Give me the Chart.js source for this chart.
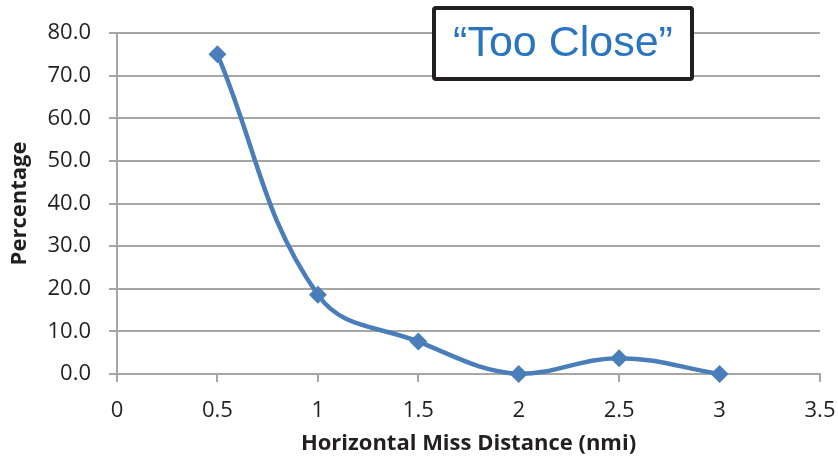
<!DOCTYPE html>
<html>
<head>
<meta charset="utf-8">
<script src="https://cdn.jsdelivr.net/npm/chart.js@4/dist/chart.umd.min.js"></script>
<style>
  html, body { margin: 0; padding: 0; background: #fff; }
  #wrap { width: 838px; height: 463px; position: relative; }
</style>
</head>
<body>
<div id="wrap"><canvas id="c" width="838" height="463"></canvas></div>
<script>
const missDistance = [0.5, 1, 1.5, 2, 2.5, 3];
const percentage = [75.0, 18.6, 7.6, 0.0, 3.7, 0.0];
const xTickLabels = ['0', '0.5', '1', '1.5', '2', '2.5', '3', '3.5'];
const yTickLabels = ['0.0', '10.0', '20.0', '30.0', '40.0', '50.0', '60.0', '70.0', '80.0'];
const annotationText = '\u201CToo Close\u201D';
const xTitle = 'Horizontal Miss Distance (nmi)';
const yTitle = 'Percentage';

const annotationPlugin = {
  id: 'tooClose',
  afterDraw(chart) {
    const ctx = chart.ctx;
    ctx.save();
    const x = 434, y = 8, w = 258, h = 71;
    ctx.fillStyle = '#ffffff';
    ctx.strokeStyle = '#231f20';
    ctx.lineWidth = 4;
    ctx.beginPath();
    if (ctx.roundRect) ctx.roundRect(x, y, w, h, 2); else ctx.rect(x, y, w, h);
    ctx.fill();
    ctx.stroke();
    ctx.fillStyle = '#2b74bf';
    ctx.font = '43px "Liberation Sans", Arial, sans-serif';
    ctx.textAlign = 'center';
    ctx.textBaseline = 'middle';
    ctx.fillText(annotationText, x + w / 2, y + h / 2 + 1);
    ctx.restore();
  }
};

new Chart(document.getElementById('c'), {
  type: 'line',
  data: {
    datasets: [{
      data: missDistance.map((x, i) => ({ x: x, y: percentage[i] })),
      borderColor: '#4a7ebb',
      backgroundColor: '#4a7ebb',
      borderWidth: 4.5,
      tension: 0.4,
      pointStyle: 'rectRot',
      pointRadius: 9,
      pointHoverRadius: 9,
      pointBorderWidth: 0,
      clip: false
    }]
  },
  options: {
    responsive: false,
    animation: false,
    layout: { padding: { top: 33, right: 18, left: 0, bottom: 0 } },
    plugins: { legend: { display: false }, tooltip: { enabled: false } },
    scales: {
      x: {
        type: 'linear',
        min: 0, max: 3.5,
        afterFit(s) { s.height = 89; s.paddingRight = 0; s.paddingLeft = 0; },
        afterBuildTicks(s) { s.ticks = xTickLabels.map(v => ({ value: parseFloat(v) })); },
        ticks: {
          callback: (v, i) => xTickLabels[i],
          color: '#231f20',
          font: { family: '"Open Sans", sans-serif', size: 22 },
          padding: 16,
          maxRotation: 0
        },
        grid: { drawOnChartArea: false, drawTicks: true, tickLength: 8, color: '#a6a6a6', lineWidth: 2 },
        border: { color: '#a6a6a6', width: 2 },
        title: {
          display: true, text: xTitle, color: '#231f20',
          font: { family: '"Open Sans", sans-serif', size: 22, weight: 'bold' },
          padding: { top: 0, bottom: 6 }
        }
      },
      y: {
        type: 'linear',
        min: 0, max: 80,
        afterFit(s) { s.width = 117; s.paddingTop = 0; s.paddingBottom = 0; },
        afterBuildTicks(s) { s.ticks = yTickLabels.map(v => ({ value: parseFloat(v) })); },
        ticks: {
          callback: (v, i) => yTickLabels[i],
          color: '#231f20',
          font: { family: '"Open Sans", sans-serif', size: 22 },
          padding: 18
        },
        grid: { color: '#a6a6a6', lineWidth: 2, tickLength: 8 },
        border: { color: '#a6a6a6', width: 2 },
        title: {
          display: true, text: yTitle, color: '#231f20',
          font: { family: '"Open Sans", sans-serif', size: 22, weight: 'bold' },
          padding: { top: 7, bottom: 0 }
        }
      }
    }
  },
  plugins: [annotationPlugin]
});
</script>
</body>
</html>
